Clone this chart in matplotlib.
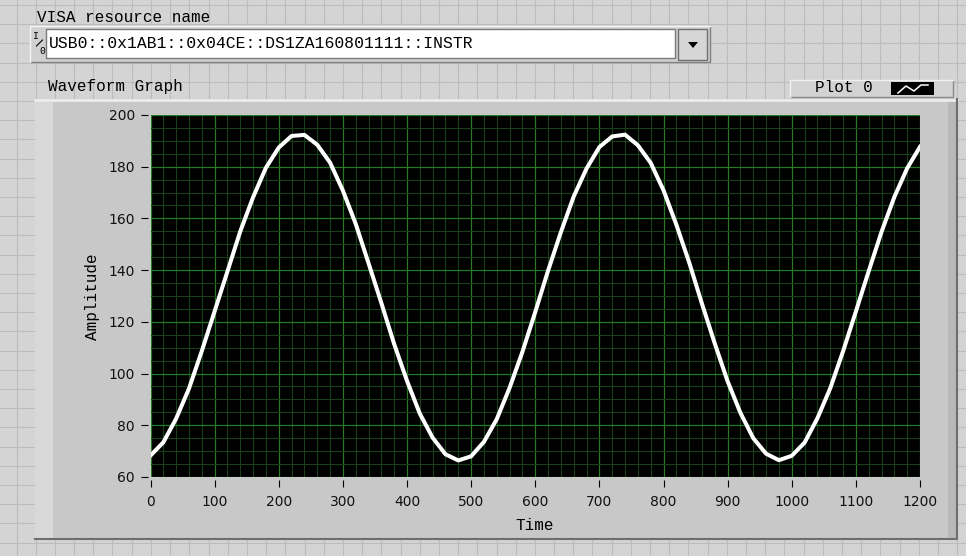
import numpy as np
import matplotlib
matplotlib.use("Agg")
import matplotlib.pyplot as plt
from matplotlib.patches import Rectangle, Polygon
from matplotlib.ticker import MultipleLocator

# waveform (one value every 20 time units)
time = list(range(0, 1201, 20))
amplitude = [68.3, 73.4, 82.6, 94.2, 108.7, 124.1, 139.5, 155.0, 168.2, 179.6,
             187.4, 191.9, 192.3, 188.5, 181.6, 170.8, 157.9, 142.7, 127.3, 111.4,
             97.2, 84.5, 75.2, 68.8, 66.4, 68.0, 73.6, 82.4, 94.5, 108.4,
             123.8, 139.8, 154.7, 168.5, 179.3, 187.6, 191.7, 192.4, 188.3, 181.5,
             170.9, 157.6, 143.0, 127.0, 111.6, 97.0, 84.8, 75.0, 69.0, 66.5,
             68.2, 73.3, 82.7, 94.3, 108.6, 124.0, 139.6, 154.8, 168.3, 179.4,
             187.7]

x_ticks = list(range(0, 1201, 100))
y_ticks = list(range(60, 201, 20))

visa_name = "USB0::0x1AB1::0x04CE::DS1ZA160801111::INSTR"
mono = "Liberation Mono"

W, H = 966, 556
fig = plt.figure(figsize=(W / 100, H / 100), dpi=100)
fig.patch.set_facecolor("#d4d4d4")

# front panel layer, pixel coordinates
bg = fig.add_axes([0, 0, 1, 1], zorder=0)
bg.set_xlim(0, W)
bg.set_ylim(H, 0)
bg.axis("off")

# panel grid
for gx in np.arange(-2.7, W, 19.2):
    bg.axvline(gx, color="#bcbcbc", lw=0.8, zorder=0)
for gy in np.arange(5.0, H, 19.2):
    bg.axhline(gy, color="#bcbcbc", lw=0.8, zorder=0)

# VISA resource name control
bg.text(37, 18, "VISA resource name", family=mono, fontsize=11.5, va="center", ha="left")
bg.add_patch(Rectangle((30, 26), 680, 36, fc="#d0d0d0", ec="none", zorder=1))
bg.plot([30, 710, 710], [62, 62, 26], color="#808080", lw=1, zorder=2)
bg.plot([30, 30, 710], [62, 26, 26], color="#f4f4f4", lw=1, zorder=2)
bg.add_patch(Rectangle((46, 29), 629, 29, fc="white", ec="#7a7a7a", lw=1, zorder=2))
bg.text(36, 36, "I", family=mono, fontsize=7, va="center", ha="center", zorder=3)
bg.plot([36.5, 42.5], [46, 40], color="black", lw=0.8, zorder=3)
bg.text(42, 51, "0", family=mono, fontsize=7, va="center", ha="center", zorder=3)
bg.text(49, 44, visa_name, family=mono, fontsize=11.8, va="center", ha="left", zorder=3)
bg.add_patch(Rectangle((678, 29), 29, 31, fc="#d6d6d6", ec="#707070", lw=1, zorder=2))
bg.add_patch(Polygon([[688, 42], [698, 42], [693, 48]], closed=True, fc="black", zorder=3))

# graph label and legend
bg.text(48, 86, "Waveform Graph", family=mono, fontsize=11.5, va="center", ha="left")
bg.add_patch(Rectangle((790, 80), 163, 17, fc="#d2d2d2", ec="none", zorder=1))
bg.plot([790, 953, 953], [97, 97, 80], color="#8a8a8a", lw=1, zorder=2)
bg.plot([790, 790, 953], [97, 80, 80], color="#f0f0f0", lw=1, zorder=2)
bg.text(815, 88, "Plot 0", family=mono, fontsize=11.5, va="center", ha="left", zorder=3)
bg.add_patch(Rectangle((891, 82), 43, 13, fc="black", ec="none", zorder=2))
bg.plot([898, 906, 914, 921, 928], [93, 86, 91, 85, 85], color="white", lw=1.1, zorder=3)

# graph frame
bg.add_patch(Rectangle((35, 99), 922, 440, fc="#c8c8c8", ec="none", zorder=1))
bg.add_patch(Rectangle((35, 99), 18, 440, fc="#d8d8d8", ec="none", zorder=1))
bg.add_patch(Rectangle((948, 99), 9, 440, fc="#b8b8b8", ec="none", zorder=1))
bg.plot([35, 957], [100, 100], color="#ececec", lw=2, zorder=2)
bg.plot([957, 957, 35], [99, 539, 539], color="#6e6e6e", lw=1.5, zorder=2)

bg.text(535, 526, "Time", family=mono, fontsize=11.5, va="center", ha="center", zorder=3)
bg.text(92, 297, "Amplitude", family=mono, fontsize=11.5, va="center", ha="center",
        rotation=90, zorder=3)

# plot area
ax = fig.add_axes([150.5 / W, 1 - 477 / H, (920 - 150.5) / W, (477 - 115) / H], zorder=2)
ax.set_facecolor("black")
ax.plot(time, amplitude, color="white", lw=2.9, solid_joinstyle="round", zorder=3)
ax.set_xlim(0, 1200)
ax.set_ylim(60, 200)
ax.set_xticks(x_ticks)
ax.set_yticks(y_ticks)
ax.xaxis.set_minor_locator(MultipleLocator(20))
ax.yaxis.set_minor_locator(MultipleLocator(5))
ax.grid(which="major", color="#247a24", lw=0.9)
ax.grid(which="minor", color="#183f18", lw=0.8)
ax.set_axisbelow(True)
for side in ["top", "right", "left", "bottom"]:
    ax.spines[side].set_visible(False)
ax.spines["bottom"].set_position(("outward", 2.2))
ax.spines["left"].set_position(("outward", 2))
ax.tick_params(which="major", length=5.3, width=0.8, color="black", labelsize=10,
               labelcolor="#111111")
ax.tick_params(axis="x", which="major", pad=5.5)
ax.tick_params(axis="y", which="major", pad=4)
ax.tick_params(which="minor", length=0)

fig.savefig("out.png", dpi=100, facecolor=fig.get_facecolor())
